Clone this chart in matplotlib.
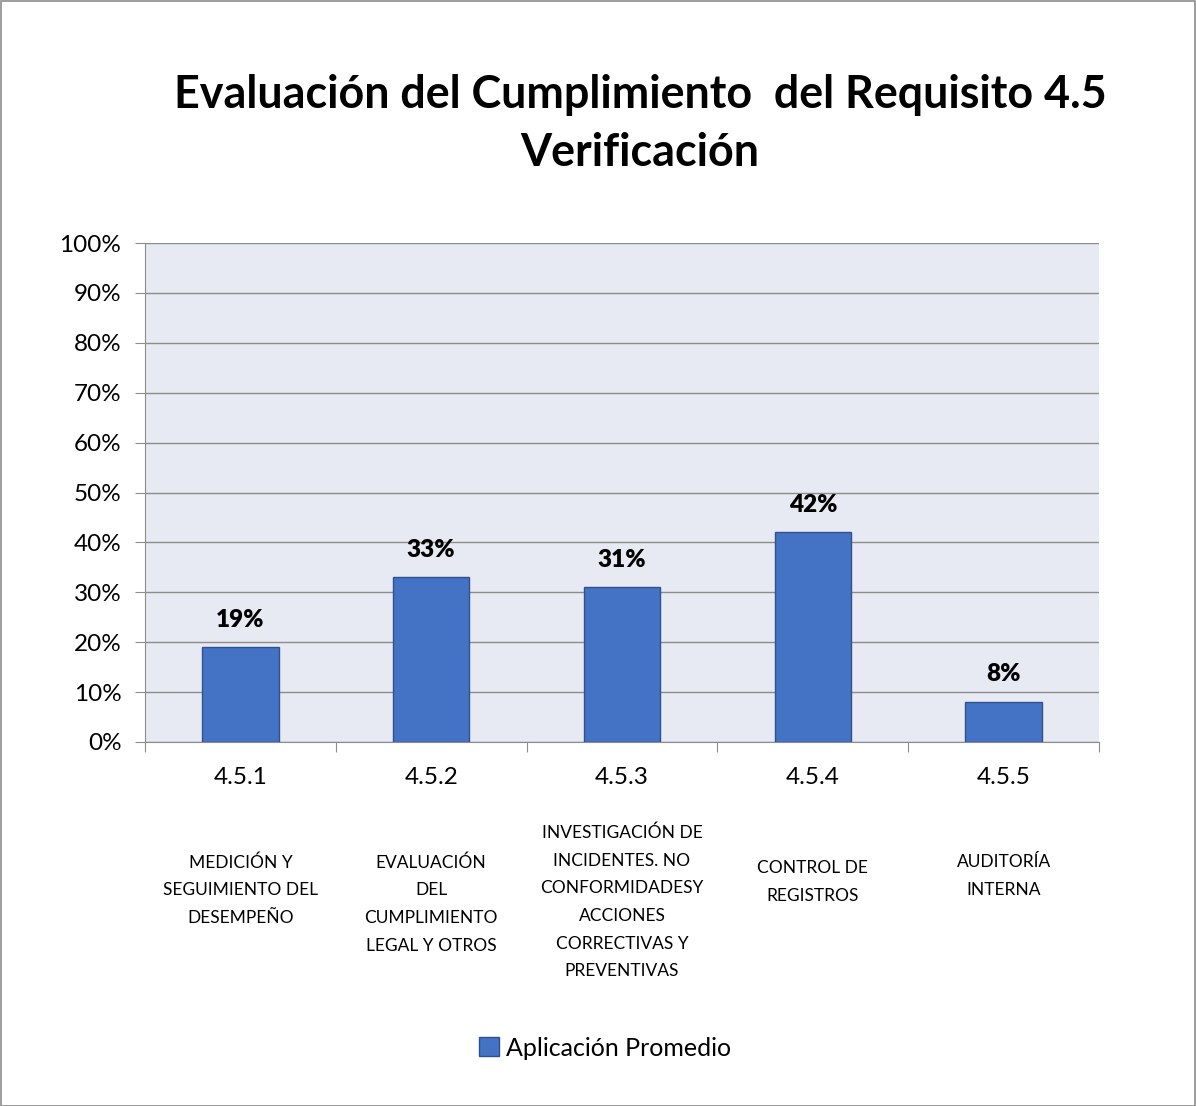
import matplotlib
matplotlib.use("Agg")
import matplotlib.pyplot as plt
from matplotlib.patches import Rectangle, Patch
import numpy as np

codes = ["4.5.1", "4.5.2", "4.5.3", "4.5.4", "4.5.5"]
descriptions = [
    "MEDICIÓN Y\nSEGUIMIENTO DEL\nDESEMPEÑO",
    "EVALUACIÓN\nDEL\nCUMPLIMIENTO\nLEGAL Y OTROS",
    "INVESTIGACIÓN DE\nINCIDENTES. NO\nCONFORMIDADESY\nACCIONES\nCORRECTIVAS Y\nPREVENTIVAS",
    "CONTROL DE\nREGISTROS",
    "AUDITORÍA\nINTERNA",
]
values = [19, 33, 31, 42, 8]
series_name = "Aplicación Promedio"
title = "Evaluación del Cumplimiento  del Requisito 4.5\nVerificación"

# layout: vertical centre (pixels from top) of each description block
desc_centres_px = [890, 904, 902, 882, 876]

plt.rcParams["font.family"] = ["Lato", "DejaVu Sans"]

W, H = 1196, 1106
fig = plt.figure(figsize=(W / 100, H / 100), dpi=100)
fig.patches.append(Rectangle((0.5 / W, 0.5 / H), 1 - 1.5 / W, 1 - 1.5 / H,
                             transform=fig.transFigure, fill=False,
                             edgecolor="#8c8c8c", linewidth=1.2))

ax = fig.add_axes([145 / W, (H - 742) / H, (1099 - 145) / W, (742 - 243) / H])
ax.set_facecolor("#E8EAF3")
x = np.arange(len(values))
ax.bar(x, values, width=0.4, color="#4472C4", edgecolor="#2F528F", linewidth=1, zorder=3)
ax.set_xlim(-0.5, len(values) - 0.5)
ax.set_ylim(0, 100)
ax.set_yticks(np.arange(0, 101, 10))
ax.set_yticklabels([f"{v}%" for v in range(0, 101, 10)], fontsize=17.5)
ax.yaxis.grid(True, color="#8c8c8c", linewidth=1, zorder=1)
ax.set_axisbelow(True)
ax.tick_params(axis="y", length=7, color="#8c8c8c", pad=10, labelcolor="black")
ax.set_xticks(np.arange(-0.5, len(values), 1))
ax.set_xticklabels([])
ax.tick_params(axis="x", length=7, color="#8c8c8c")
for s in ["top", "right"]:
    ax.spines[s].set_visible(False)
for s in ["left", "bottom"]:
    ax.spines[s].set_color("#8c8c8c")

for xi, v in zip(x, values):
    ax.annotate(f"{v}%", (xi, v), xytext=(0, 12), textcoords="offset points",
                ha="center", va="bottom", fontsize=17.5, fontweight="heavy")

for xi, c, d, yc in zip(x, codes, descriptions, desc_centres_px):
    xf = (145 + (xi + 0.5) * (1099 - 145) / len(values)) / W
    fig.text(xf, 1 - 777 / H, c, ha="center", va="center", fontsize=17.5)
    fig.text(xf, 1 - yc / H, d, ha="center", va="center", fontsize=12.5,
             linespacing=1.9)

fig.text(640 / W, 1 - 124 / H, title, ha="center", va="center", fontsize=32.3,
         fontweight="bold", linespacing=1.45)

fig.legend(handles=[Patch(facecolor="#4472C4", edgecolor="#2F528F", label=series_name)],
           loc="center", bbox_to_anchor=(605 / W, 1 - 1048 / H), frameon=False,
           fontsize=18, handlelength=0.8, handleheight=0.8, handletextpad=0.3)

fig.savefig("out.png", dpi=100)
